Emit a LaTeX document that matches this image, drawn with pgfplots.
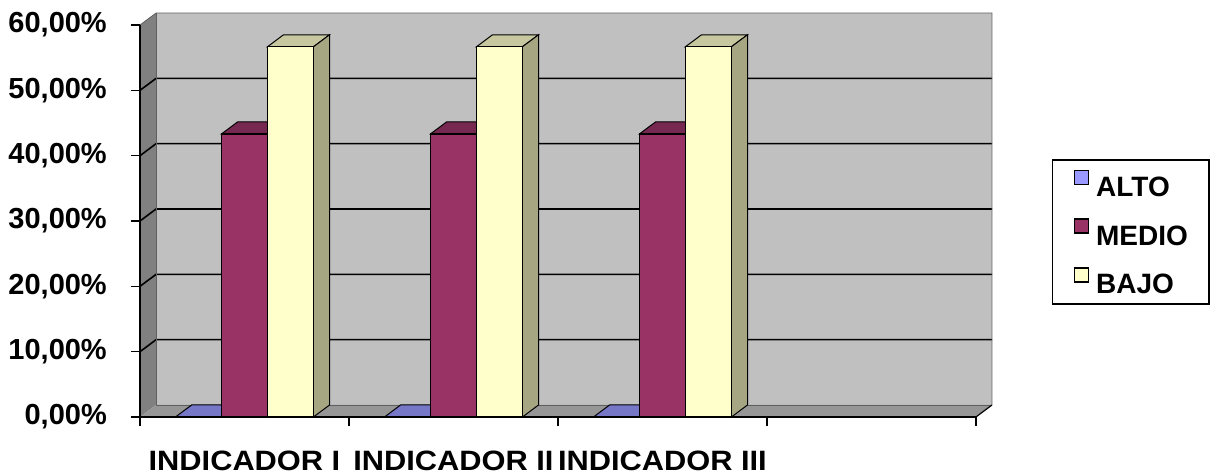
\documentclass[border=0pt]{standalone}
\usepackage{fontspec}
\setmainfont{Liberation Sans}
\usepackage{pgfplots}
\pgfplotsset{compat=1.18}
\definecolor{backwall}{HTML}{C0C0C0}
\definecolor{leftwall}{HTML}{808080}
\definecolor{floorc}{HTML}{969696}
\definecolor{alto}{HTML}{9999FF}
\definecolor{altotop}{HTML}{7777C8}
\definecolor{medio}{HTML}{993366}
\definecolor{mediotop}{HTML}{772850}
\definecolor{bajo}{HTML}{FFFFCC}
\definecolor{bajotop}{HTML}{C8C8A0}
\definecolor{bajoside}{HTML}{A6A682}
\definecolor{edgegray}{HTML}{606060}
\begin{document}
\begin{tikzpicture}
\path[use as bounding box] (0,0) rectangle (1217pt,475pt);
\begin{axis}[
  at={(140pt,58pt)}, anchor=south west,
  scale only axis, width=852pt, height=404pt,
  xmin=-0.5, xmax=3.577, ymin=0, ymax=61.84,
  clip=false,
  axis line style={draw=none},
  tick style={black, line width=1.5pt},
  tick align=outside,
  major tick length=9pt,
  ytick={0,10,20,30,40,50,60},
  yticklabels={{0,00\%},{10,00\%},{20,00\%},{30,00\%},{40,00\%},{50,00\%},{60,00\%}},
  ytick pos=left,
  xtick={-0.5,0.5,1.5,2.5,3.5},
  xticklabels={,,,,},
  xtick pos=left,
  extra x ticks={0,1,2},
  extra x tick labels={INDICADOR I,INDICADOR II,INDICADOR III},
  extra x tick style={major tick length=0pt},
  yticklabel style={inner sep=0pt, xshift=-24pt, font=\fontsize{29}{34}\selectfont\bfseries},
  xticklabel style={inner sep=0pt, yshift=-34pt, anchor=north, xscale=1.1, font=\fontsize{28}{32}\selectfont\bfseries},
  legend style={at={(rel axis cs:1.0704,0.6386)}, anchor=north west,
    draw=black, line width=1.5pt, fill=white,
    font=\fontsize{28}{32}\selectfont\bfseries,
    nodes={inner sep=0pt, text height=20pt, text depth=0pt},
    row sep=22pt, inner xsep=21pt, inner ysep=10pt,
    /tikz/every odd column/.append style={column sep=7pt}},
  legend cell align=left,
  legend image code/.code={\draw[#1,draw=black,line width=1.4pt] (0pt,2pt) rectangle (14pt,16pt);},
]
% walls
\fill[backwall] (axis cs:-0.423,1.84) rectangle (axis cs:3.577,61.84);
\fill[leftwall] (axis cs:-0.5,0) -- (axis cs:-0.5,60) -- (axis cs:-0.423,61.84) -- (axis cs:-0.423,1.84) -- cycle;
\fill[floorc] (axis cs:-0.5,0) -- (axis cs:3.5,0) -- (axis cs:3.577,1.84) -- (axis cs:-0.423,1.84) -- cycle;
% gridlines
\draw[black, line width=1.6pt] (axis cs:-0.5,10) -- (axis cs:-0.423,11.84) -- (axis cs:3.577,11.84);
\draw[black, line width=1.6pt] (axis cs:-0.5,20) -- (axis cs:-0.423,21.84) -- (axis cs:3.577,21.84);
\draw[black, line width=1.6pt] (axis cs:-0.5,30) -- (axis cs:-0.423,31.84) -- (axis cs:3.577,31.84);
\draw[black, line width=1.6pt] (axis cs:-0.5,40) -- (axis cs:-0.423,41.84) -- (axis cs:3.577,41.84);
\draw[black, line width=1.6pt] (axis cs:-0.5,50) -- (axis cs:-0.423,51.84) -- (axis cs:3.577,51.84);
% wall edges
\draw[edgegray, line width=0.8pt] (axis cs:-0.5,60) -- (axis cs:-0.423,61.84) -- (axis cs:3.577,61.84) -- (axis cs:3.577,1.84);
\draw[edgegray, line width=0.8pt] (axis cs:-0.423,61.84) -- (axis cs:-0.423,1.84) -- (axis cs:3.577,1.84);
% 3D faces of the bars
\addplot[forget plot, fill=altotop, draw=black, line width=1pt] coordinates {(-0.33,0) (-0.11,0) (-0.033,1.84) (-0.253,1.84)} -- cycle;
\addplot[forget plot, fill=mediotop, draw=black, line width=1pt] coordinates {(-0.11,43.33) (0.11,43.33) (0.187,45.17) (-0.033,45.17)} -- cycle;
\addplot[forget plot, fill=mediotop, draw=black, line width=1pt] coordinates {(0.11,0) (0.11,43.33) (0.187,45.17) (0.187,1.84)} -- cycle;
\addplot[forget plot, fill=bajotop, draw=black, line width=1pt] coordinates {(0.11,56.67) (0.33,56.67) (0.407,58.51) (0.187,58.51)} -- cycle;
\addplot[forget plot, fill=bajoside, draw=black, line width=1pt] coordinates {(0.33,0) (0.33,56.67) (0.407,58.51) (0.407,1.84)} -- cycle;
\addplot[forget plot, fill=altotop, draw=black, line width=1pt] coordinates {(0.67,0) (0.89,0) (0.967,1.84) (0.747,1.84)} -- cycle;
\addplot[forget plot, fill=mediotop, draw=black, line width=1pt] coordinates {(0.89,43.33) (1.11,43.33) (1.187,45.17) (0.967,45.17)} -- cycle;
\addplot[forget plot, fill=mediotop, draw=black, line width=1pt] coordinates {(1.11,0) (1.11,43.33) (1.187,45.17) (1.187,1.84)} -- cycle;
\addplot[forget plot, fill=bajotop, draw=black, line width=1pt] coordinates {(1.11,56.67) (1.33,56.67) (1.407,58.51) (1.187,58.51)} -- cycle;
\addplot[forget plot, fill=bajoside, draw=black, line width=1pt] coordinates {(1.33,0) (1.33,56.67) (1.407,58.51) (1.407,1.84)} -- cycle;
\addplot[forget plot, fill=altotop, draw=black, line width=1pt] coordinates {(1.67,0) (1.89,0) (1.967,1.84) (1.747,1.84)} -- cycle;
\addplot[forget plot, fill=mediotop, draw=black, line width=1pt] coordinates {(1.89,43.33) (2.11,43.33) (2.187,45.17) (1.967,45.17)} -- cycle;
\addplot[forget plot, fill=mediotop, draw=black, line width=1pt] coordinates {(2.11,0) (2.11,43.33) (2.187,45.17) (2.187,1.84)} -- cycle;
\addplot[forget plot, fill=bajotop, draw=black, line width=1pt] coordinates {(2.11,56.67) (2.33,56.67) (2.407,58.51) (2.187,58.51)} -- cycle;
\addplot[forget plot, fill=bajoside, draw=black, line width=1pt] coordinates {(2.33,0) (2.33,56.67) (2.407,58.51) (2.407,1.84)} -- cycle;
% front faces
\addplot[ybar, bar width=46pt, bar shift=-46pt, fill=alto, draw=black, line width=1.2pt] coordinates {(0,0) (1,0) (2,0)};
\addplot[ybar, bar width=46pt, bar shift=0pt, fill=medio, draw=black, line width=1.2pt] coordinates {(0,43.33) (1,43.33) (2,43.33)};
\addplot[ybar, bar width=46pt, bar shift=46pt, fill=bajo, draw=black, line width=1.2pt] coordinates {(0,56.67) (1,56.67) (2,56.67)};
\legend{ALTO,MEDIO,BAJO}
% front axis lines
\draw[black, line width=1.8pt] (axis cs:-0.5,0) -- (axis cs:-0.5,60);
\draw[black, line width=2.6pt] (axis cs:-0.5,0) -- (axis cs:3.5,0);
\draw[black, line width=1.2pt] (axis cs:3.5,0) -- (axis cs:3.577,1.84);
\end{axis}
\end{tikzpicture}
\end{document}
